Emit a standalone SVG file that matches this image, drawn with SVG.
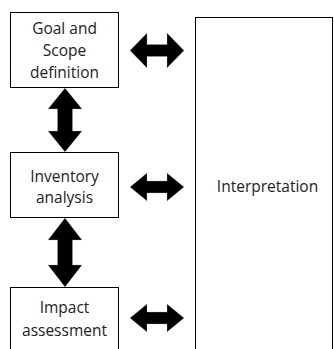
<svg xmlns="http://www.w3.org/2000/svg" width="334" height="349" viewBox="0 0 334 349">
<style>
.box{fill:#fff;stroke:#000;stroke-width:1}
.t{font-family:"Open Sans","Liberation Sans",Arial,sans-serif;font-size:15.5px;fill:#222;text-anchor:middle}
.arr{fill:#000;stroke:#9fb3cc;stroke-width:0.6;stroke-opacity:0.6}
</style>
<rect width="334" height="349" fill="#fff"/>
<g id="interpretation">
<rect class="box" x="195.5" y="17.5" width="137" height="340"/>
<text class="t" x="267.5" y="192">Interpretation</text>
</g>
<g id="goal">
<rect class="box" x="10.5" y="12.5" width="108" height="75"/>
<text class="t" x="64.5" y="34">Goal and</text>
<text class="t" x="64.5" y="55.5">Scope</text>
<text class="t" x="64.5" y="78">definition</text>
</g>
<g id="inventory">
<rect class="box" x="10.5" y="152.5" width="108" height="65"/>
<text class="t" x="64.5" y="182">Inventory</text>
<text class="t" x="64.5" y="202.5">analysis</text>
</g>
<g id="impact">
<rect class="box" x="10.5" y="287.5" width="108" height="70"/>
<text class="t" x="64.5" y="313">Impact</text>
<text class="t" x="64.5" y="336">assessment</text>
</g>
<g id="connectors">
<polygon class="arr" points="130,50.5 147,33 147,44.5 167,44.5 167,33 184,50.5 167,68 167,56.5 147,56.5 147,68"/>
<polygon class="arr" points="130,187 147,173 147,181 167,181 167,173 184,187 167,201 167,193 147,193 147,201"/>
<polygon class="arr" points="130,318 147,304 147,312 167,312 167,304 184,318 167,332 167,324 147,324 147,332"/>
<polygon class="arr" points="65,88 82,109 72.5,109 72.5,131 82,131 65,152 48,131 57.5,131 57.5,109 48,109"/>
<polygon class="arr" points="65,218 82,240 72.5,240 72.5,265 82,265 65,287 48,265 57.5,265 57.5,240 48,240"/>
</g>
</svg>
